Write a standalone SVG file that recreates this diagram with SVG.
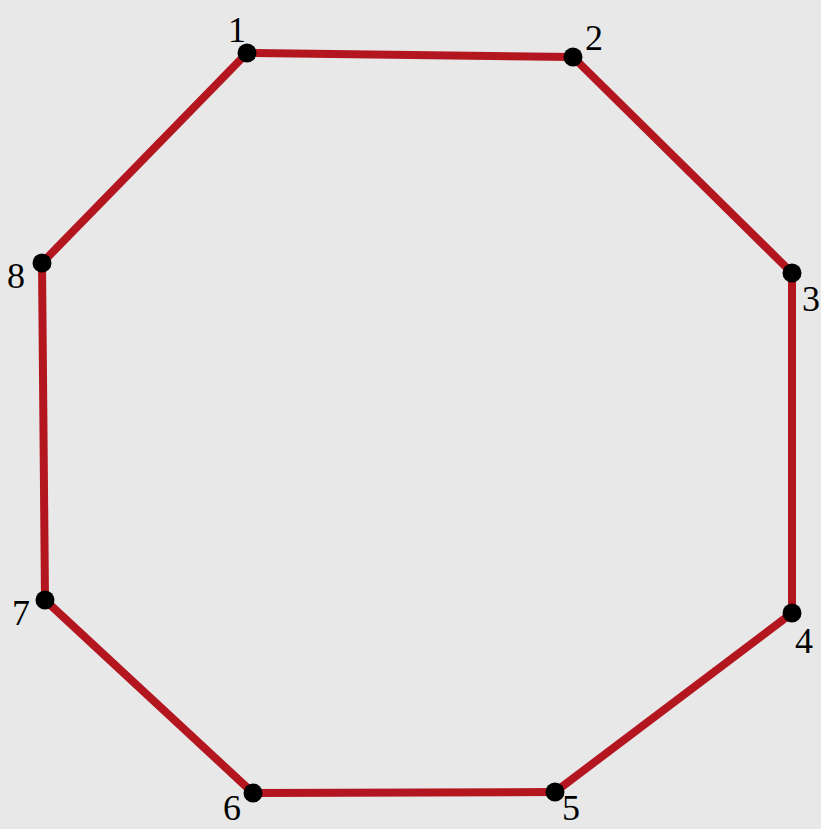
<svg xmlns="http://www.w3.org/2000/svg" width="821" height="829" viewBox="0 0 821 829">
<style>
.edge{stroke:#b3161f;stroke-width:8;stroke-linecap:round;fill:none}
.dot{fill:#000}
.lbl{font-family:"Liberation Serif","Times New Roman",serif;font-size:36px;fill:#000;text-anchor:middle}
</style>
<rect width="821" height="829" fill="#e8e8e8"/>
<g id="connectors">
<line class="edge" x1="247" y1="53" x2="573" y2="57"/>
<line class="edge" x1="573" y1="57" x2="792" y2="273"/>
<line class="edge" x1="792" y1="273" x2="792" y2="613"/>
<line class="edge" x1="792" y1="613" x2="555" y2="792"/>
<line class="edge" x1="555" y1="792" x2="253" y2="793"/>
<line class="edge" x1="253" y1="793" x2="45" y2="600"/>
<line class="edge" x1="45" y1="600" x2="42" y2="263"/>
<line class="edge" x1="42" y1="263" x2="247" y2="53"/>
</g>
<g id="n1"><circle class="dot" cx="247" cy="53" r="9.5"/><text class="lbl" x="237" y="42">1</text></g>
<g id="n2"><circle class="dot" cx="573" cy="57" r="9.5"/><text class="lbl" x="594" y="50">2</text></g>
<g id="n3"><circle class="dot" cx="792" cy="273" r="9.5"/><text class="lbl" x="811" y="311">3</text></g>
<g id="n4"><circle class="dot" cx="792" cy="613" r="9.5"/><text class="lbl" x="804" y="653">4</text></g>
<g id="n5"><circle class="dot" cx="555" cy="792" r="9.5"/><text class="lbl" x="571" y="820">5</text></g>
<g id="n6"><circle class="dot" cx="253" cy="793" r="9.5"/><text class="lbl" x="232" y="820">6</text></g>
<g id="n7"><circle class="dot" cx="45" cy="600" r="9.5"/><text class="lbl" x="21" y="625">7</text></g>
<g id="n8"><circle class="dot" cx="42" cy="263" r="9.5"/><text class="lbl" x="16" y="288">8</text></g>
</svg>
